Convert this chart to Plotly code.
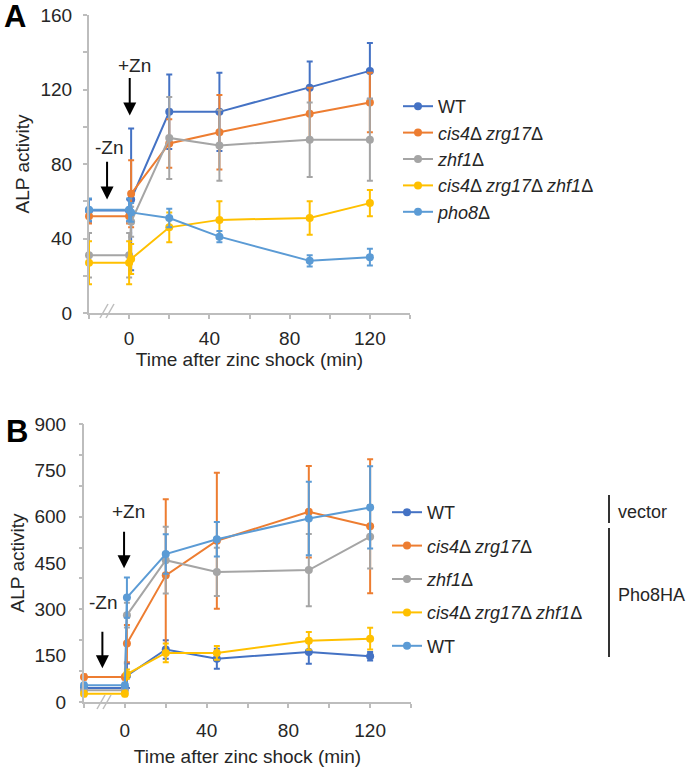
import plotly.graph_objects as go

# ---------------- data ----------------
time_min = [-20, 0, 1, 20, 45, 90, 120]

# Panel A (ALP activity)
a_names = ["WT", "<i>cis4</i>Δ <i>zrg17</i>Δ", "<i>zhf1</i>Δ",
           "<i>cis4</i>Δ <i>zrg17</i>Δ <i>zhf1</i>Δ", "<i>pho8</i>Δ"]
a_wt = [55, 55, 61, 108, 108, 121, 130]
a_wt_err = [6, 6, 38, 20, 21, 14, 15]
a_cz = [52, 52, 64, 91, 97, 107, 113]
a_cz_err = [4, 4, 18, 13, 20, 14, 16]
a_zhf = [31, 31, 49, 94, 90, 93, 93]
a_zhf_err = [12, 12, 8, 22, 19, 20, 22]
a_tri = [27, 27, 29, 46, 50, 51, 59]
a_tri_err = [11.5, 11.5, 8, 8, 10, 9, 7]
a_pho8 = [55.5, 55.5, 54, 51, 41, 28, 30]
a_pho8_err = [6, 6, 5, 5, 3, 3, 4.5]

# Panel B (ALP activity)
b_names = ["WT", "<i>cis4</i>Δ <i>zrg17</i>Δ", "<i>zhf1</i>Δ",
           "<i>cis4</i>Δ <i>zrg17</i>Δ <i>zhf1</i>Δ", "WT"]
b_wt_vec = [45, 45, 85, 170, 140, 162, 148]
b_wt_vec_err = [10, 10, 40, 30, 32, 38, 14]
b_cz = [81, 81, 189, 410, 522, 616, 569]
b_cz_err = [8, 8, 60, 246, 220, 148, 217]
b_zhf = [38, 38, 281, 459, 421, 427, 535]
b_zhf_err = [8, 8, 40, 108, 78, 117, 103]
b_tri = [27, 27, 90, 159, 159, 198, 205]
b_tri_err = [8, 8, 15, 30, 22, 29, 35]
b_wt_pho8 = [54, 54, 338, 479, 527, 594, 630]
b_wt_pho8_err = [8, 8, 65, 64, 56, 119, 133]

colors = ["#4472C4", "#ED7D31", "#A5A5A5", "#FFC000", "#5B9BD5"]

FONT = "Liberation Sans, Arial, sans-serif"
TXT = "#262626"
AX = "#BDBDBD"

fig = go.Figure()

a_series = [(a_wt, a_wt_err), (a_cz, a_cz_err), (a_zhf, a_zhf_err),
            (a_tri, a_tri_err), (a_pho8, a_pho8_err)]
for i, (vals, errs) in enumerate(a_series):
    fig.add_trace(go.Scatter(
        x=time_min, y=vals, name=a_names[i], mode="lines+markers",
        line=dict(color=colors[i], width=2),
        marker=dict(color=colors[i], size=8),
        error_y=dict(type="data", array=errs, color=colors[i], thickness=2, width=3),
        xaxis="x", yaxis="y", legend="legend", cliponaxis=False))

b_series = [(b_wt_vec, b_wt_vec_err), (b_cz, b_cz_err), (b_zhf, b_zhf_err),
            (b_tri, b_tri_err), (b_wt_pho8, b_wt_pho8_err)]
for i, (vals, errs) in enumerate(b_series):
    fig.add_trace(go.Scatter(
        x=time_min, y=vals, name=b_names[i], mode="lines+markers",
        line=dict(color=colors[i], width=2),
        marker=dict(color=colors[i], size=8),
        error_y=dict(type="data", array=errs, color=colors[i], thickness=2, width=3),
        xaxis="x2", yaxis="y2", legend="legend2", legendgroup="g%d" % i,
        cliponaxis=False))

W, H = 693, 770
def px(x):
    return x / W
def py(y):
    return 1 - y / H

def xaxis_style(title_standoff, label_standoff):
    return dict(range=[-20, 140], tickmode="linear", tick0=0, dtick=40,
                showline=True, linecolor=AX, linewidth=2, ticks="outside",
                ticklen=4, tickcolor=AX, tickwidth=1.5, showgrid=False,
                zeroline=False, tickfont=dict(size=19, color=TXT, family=FONT),
                minor=dict(dtick=20, ticks="outside", ticklen=4, tickcolor=AX, tickwidth=1.5),
                title=dict(text="Time after zinc shock (min)",
                           font=dict(size=19, color=TXT, family=FONT), standoff=title_standoff),
                ticklabelstandoff=label_standoff, automargin=False)

fig.update_layout(
    width=W, height=H, margin=dict(l=0, r=0, t=0, b=0, autoexpand=False),
    paper_bgcolor="white", plot_bgcolor="white",
    font=dict(family=FONT, color=TXT, size=19),
    xaxis=dict(domain=[px(89), px(410)], anchor="y", **xaxis_style(0, 3)),
    yaxis=dict(domain=[py(313), py(15)], anchor="x", range=[0, 160],
               tickmode="linear", tick0=0, dtick=40,
               showline=True, linecolor=AX, linewidth=2, ticks="outside",
               ticklen=4, tickcolor=AX, tickwidth=1.5, showgrid=False, zeroline=False,
               minor=dict(dtick=20, ticks="outside", ticklen=4, tickcolor=AX, tickwidth=1.5),
               tickfont=dict(size=19, color=TXT, family=FONT), ticklabelstandoff=7,
               automargin=False,
               title=dict(text="ALP activity", font=dict(size=19, color=TXT, family=FONT),
                          standoff=6)),
    xaxis2=dict(domain=[px(84), px(411)], anchor="y2", **xaxis_style(10, 6)),
    yaxis2=dict(domain=[py(702), py(424)], anchor="x2", range=[0, 900],
                tickmode="linear", tick0=0, dtick=150,
                showline=True, linecolor=AX, linewidth=2, ticks="",
                showgrid=False, zeroline=False, automargin=False,
                tickfont=dict(size=19, color=TXT, family=FONT), ticklabelstandoff=12,
                title=dict(text="ALP activity", font=dict(size=19, color=TXT, family=FONT),
                           standoff=5)),
    yaxis3=dict(domain=[py(702), py(424)], anchor="x2", overlaying="y2", range=[0, 900],
                tickmode="linear", tick0=0, dtick=100, showticklabels=False,
                showline=False, ticks="outside", ticklen=4, tickcolor=AX, tickwidth=1.5,
                showgrid=False, zeroline=False, automargin=False),
    legend=dict(x=px(398), y=py(88), xanchor="left", yanchor="top",
                font=dict(size=18, color=TXT, family=FONT), bgcolor="rgba(0,0,0,0)",
                itemwidth=30, tracegroupgap=0),
    legend2=dict(x=px(387), y=py(494), xanchor="left", yanchor="top",
                 font=dict(size=18, color=TXT, family=FONT), bgcolor="rgba(0,0,0,0)",
                 itemwidth=30, tracegroupgap=7),
    showlegend=True,
)

# invisible trace to activate yaxis3
fig.add_trace(go.Scatter(x=[None], y=[None], xaxis="x2", yaxis="y3",
                         showlegend=False, hoverinfo="skip"))

ann = []
# panel letters
ann.append(dict(text="<b>A</b>", x=px(2), y=py(17), xref="paper", yref="paper",
                xanchor="left", yanchor="middle", showarrow=False,
                font=dict(size=31, color="black", family=FONT)))
ann.append(dict(text="<b>B</b>", x=px(4), y=py(431), xref="paper", yref="paper",
                xanchor="left", yanchor="middle", showarrow=False,
                font=dict(size=31, color="black", family=FONT)))

# arrows panel A
ann.append(dict(text="", x=0.3, y=106, ax=0.3, ay=127, xref="x", yref="y",
                axref="x", ayref="y", showarrow=True, arrowhead=2, arrowsize=1.3,
                arrowwidth=2, arrowcolor="black"))
ann.append(dict(text="+Zn", x=2.8, y=133, xref="x", yref="y", showarrow=False,
                font=dict(size=19, color=TXT, family=FONT)))
ann.append(dict(text="", x=-11, y=61, ax=-11, ay=82, xref="x", yref="y",
                axref="x", ayref="y", showarrow=True, arrowhead=2, arrowsize=1.3,
                arrowwidth=2, arrowcolor="black"))
ann.append(dict(text="-Zn", x=-10, y=89, xref="x", yref="y", showarrow=False,
                font=dict(size=19, color=TXT, family=FONT)))

# arrows panel B
ann.append(dict(text="", x=-0.4, y=433, ax=-0.4, ay=556, xref="x2", yref="y2",
                axref="x2", ayref="y2", showarrow=True, arrowhead=2, arrowsize=1.3,
                arrowwidth=2, arrowcolor="black"))
ann.append(dict(text="+Zn", x=1.6, y=616, xref="x2", yref="y2", showarrow=False,
                font=dict(size=19, color=TXT, family=FONT)))
ann.append(dict(text="", x=-11, y=109, ax=-11, ay=232, xref="x2", yref="y2",
                axref="x2", ayref="y2", showarrow=True, arrowhead=2, arrowsize=1.3,
                arrowwidth=2, arrowcolor="black"))
ann.append(dict(text="-Zn", x=-10.7, y=321, xref="x2", yref="y2", showarrow=False,
                font=dict(size=19, color=TXT, family=FONT)))

# bracket labels panel B
ann.append(dict(text="vector", x=px(616), y=py(512), xref="paper", yref="paper",
                xanchor="left", yanchor="middle", showarrow=False,
                font=dict(size=18, color=TXT, family=FONT)))
ann.append(dict(text="Pho8HA", x=px(616), y=py(595), xref="paper", yref="paper",
                xanchor="left", yanchor="middle", showarrow=False,
                font=dict(size=18, color=TXT, family=FONT)))
fig.update_layout(annotations=ann)

shapes = []
# bracket lines
shapes.append(dict(type="line", xref="paper", yref="paper", x0=px(609), x1=px(609),
                   y0=py(495), y1=py(523), line=dict(color="#333333", width=2)))
shapes.append(dict(type="line", xref="paper", yref="paper", x0=px(609), x1=px(609),
                   y0=py(528), y1=py(657), line=dict(color="#333333", width=2)))
# axis break marks
for (bx, by) in [(100, 318), (97, 709)]:
    for off in (0, 6):
        shapes.append(dict(type="line", xref="paper", yref="paper",
                           x0=px(bx + off), y0=py(by), x1=px(bx + off + 8), y1=py(by - 14),
                           line=dict(color=AX, width=1.5)))
fig.update_layout(shapes=shapes)

fig.write_html("out.html", config={"displayModeBar": False},
               post_script="document.body.style.margin='0';")
